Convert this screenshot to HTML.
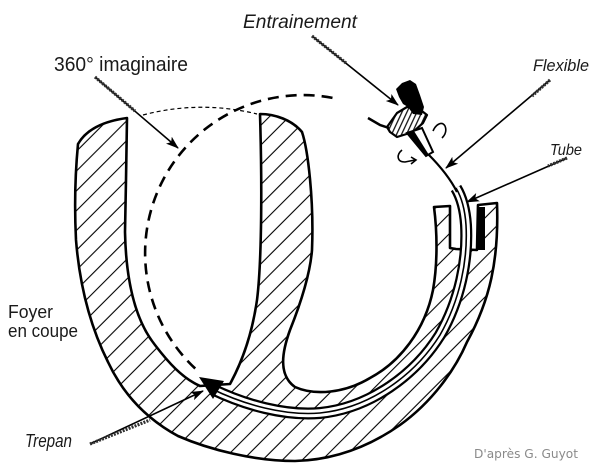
<!DOCTYPE html>
<html>
<head>
<meta charset="utf-8">
<style>
  html,body{margin:0;padding:0;background:#fff;}
  body{width:600px;height:464px;overflow:hidden;}
  svg{display:block;}
  .hand{font-family:"Liberation Sans","DejaVu Sans",sans-serif;fill:#1a1a1a;}
</style>
</head>
<body>
<svg width="600" height="464" viewBox="0 0 600 464" xmlns="http://www.w3.org/2000/svg">
  <defs>
    <pattern id="h" patternUnits="userSpaceOnUse" width="14" height="14" patternTransform="rotate(45)">
      <line x1="7" y1="-1" x2="7" y2="15" stroke="#000" stroke-width="1.1"/>
    </pattern>
    <pattern id="h2" patternUnits="userSpaceOnUse" width="4.5" height="4.5" patternTransform="rotate(25)">
      <line x1="2.2" y1="-1" x2="2.2" y2="6" stroke="#000" stroke-width="1.2"/>
    </pattern>
    <marker id="a" markerWidth="13" markerHeight="10" refX="12" refY="5" orient="auto" markerUnits="userSpaceOnUse">
      <path d="M0,0.5 L13,5 L0,9.5 L3,5 Z" fill="#000"/>
    </marker>
  </defs>

  <!-- Hatched body of the hearth (section) -->
  <path d="M 78,144
           Q 90,123 127,118
           L 126,180 L 125,232
           C 126,280 135,320 155,345
           C 168,362 182,378 200,386
           L 230,384
           C 242,362 252,335 257,300
           C 262,260 262,180 260,114
           C 275,114 292,120 302,132
           C 308,150 314,200 312,250
           C 310,275 300,305 290,330
           C 282,352 278,375 295,387
           C 315,396 345,393 370,378
           C 400,362 425,330 433,290
           C 438,262 437,230 434,207
           L 450,206 L 450,248 L 456,249
           L 477,250 L 478,205 L 497,203
           C 499,260 490,300 467,342
           C 455,370 432,402 400,425
           C 370,446 335,460 295,461
           C 255,461 210,450 178,436
           C 145,418 122,392 108,362
           C 92,330 80,290 76,240
           C 74,200 76,165 78,144 Z"
        fill="url(#h)" stroke="#000" stroke-width="2.6" stroke-linejoin="round"/>

  <!-- black strip in right block -->
  <rect x="478" y="207" width="7" height="43" fill="#000"/>

  <!-- channel / tube + flexible -->
  <path d="M 212,389 C 245,405 285,416 320,413 C 370,408 415,375 440,335 C 460,300 468,260 466,225 C 465,210 462,198 456,188"
        fill="none" stroke="#000" stroke-width="12"/>
  <path d="M 212,389 C 245,405 285,416 320,413 C 370,408 415,375 440,335 C 460,300 468,260 466,225 C 465,210 462,198 456,188"
        fill="none" stroke="#fff" stroke-width="7.5"/>
  <path d="M 212,389 C 245,405 285,416 320,413 C 370,408 415,375 440,335 C 460,300 468,260 466,225 C 465,210 462,198 456,188"
        fill="none" stroke="#000" stroke-width="1.6"/>

  <!-- flexible between device and tube -->
  <path d="M 428,154 C 440,166 450,178 457,192" fill="none" stroke="#000" stroke-width="2.2"/>

  <!-- trepan head -->
  <path d="M 199,377 L 224,381 L 213,399 Z" fill="#000"/>

  <!-- imaginary 360 circle (dashed) -->
  <path d="M 195.2,368.5 A 158 158 0 0 1 338.5,99.1" fill="none" stroke="#000" stroke-width="2.6" stroke-dasharray="11 7"/>
  <!-- thin dashed top line -->
  <path d="M 143,115 Q 200,100 257,114" fill="none" stroke="#000" stroke-width="1.2" stroke-dasharray="4 3"/>

  <!-- Entrainement device -->
  <path d="M 396,89 L 402,83 L 410,80 L 416,84 L 420,95 L 424,107 L 422,115 L 413,114 L 408,107 L 403,104 L 399,97 Z" fill="#000"/>
  <path d="M 387,127 L 397,113 L 407,107 L 418,108 L 427,115 L 423,123 L 413,132 L 397,137 L 390,132 Z"
        fill="url(#h2)" stroke="#000" stroke-width="2.2" stroke-linejoin="round"/>
  <path d="M 368,118 L 380,125 L 389,128" fill="none" stroke="#000" stroke-width="2.5"/>
  <path d="M 407,133 L 422,128 L 433,152 L 426,156 Z" fill="#fff" stroke="#000" stroke-width="2"/>
  <path d="M 407,133 L 414,131 L 429,155 L 426,156 Z" fill="#000"/>
  <!-- rotation marks -->
  <path d="M 433,131 C 436,124 442,121 445,126 C 447,131 445,135 442,138" fill="none" stroke="#000" stroke-width="1.6"/>
  <path d="M 402,150 C 396,155 397,162 405,162 L 415,160" fill="none" stroke="#000" stroke-width="1.6"/>
  <path d="M 411,157 L 416,160 L 411,164" fill="none" stroke="#000" stroke-width="1.6"/>

  <!-- Label arrows -->
  <g fill="none" stroke="#000" stroke-width="1.6">
    <line x1="312" y1="36" x2="398" y2="105" marker-end="url(#a)"/>
    <line x1="95" y1="77" x2="178" y2="148" marker-end="url(#a)"/>
    <line x1="550" y1="80" x2="446" y2="168" marker-end="url(#a)"/>
    <line x1="567" y1="158" x2="467" y2="202" marker-end="url(#a)"/>
    <line x1="90" y1="444" x2="203" y2="391" marker-end="url(#a)"/>
  </g>
  <!-- textured tails -->
  <g fill="none" stroke="#333" stroke-width="3.2" stroke-dasharray="2 1.2">
    <line x1="312" y1="36" x2="346" y2="63"/>
    <line x1="95" y1="77" x2="135" y2="111"/>
    <line x1="550" y1="80" x2="532" y2="96"/>
    <line x1="567" y1="158" x2="548" y2="166"/>
    <line x1="90" y1="444" x2="150" y2="420"/>
  </g>

  <!-- Labels -->
  <text class="hand" x="243" y="28" font-size="19" font-style="italic" textLength="114" lengthAdjust="spacingAndGlyphs">Entrainement</text>
  <text class="hand" x="54" y="71" font-size="20" textLength="134" lengthAdjust="spacingAndGlyphs">360° imaginaire</text>
  <text class="hand" x="533" y="71" font-size="17" font-style="italic" textLength="56" lengthAdjust="spacingAndGlyphs">Flexible</text>
  <text class="hand" x="550" y="155" font-size="16" font-style="italic" textLength="32" lengthAdjust="spacingAndGlyphs">Tube</text>
  <text class="hand" x="8" y="318" font-size="18" textLength="45" lengthAdjust="spacingAndGlyphs">Foyer</text>
  <text class="hand" x="8" y="337" font-size="18" textLength="70" lengthAdjust="spacingAndGlyphs">en coupe</text>
  <text class="hand" x="25" y="447" font-size="18" font-style="italic" textLength="47" lengthAdjust="spacingAndGlyphs">Trepan</text>
  <text x="474" y="458" font-size="12" fill="#8a8a8a" font-family="'DejaVu Sans','Liberation Sans',sans-serif" textLength="104" lengthAdjust="spacingAndGlyphs">D'après G. Guyot</text>
</svg>
</body>
</html>
